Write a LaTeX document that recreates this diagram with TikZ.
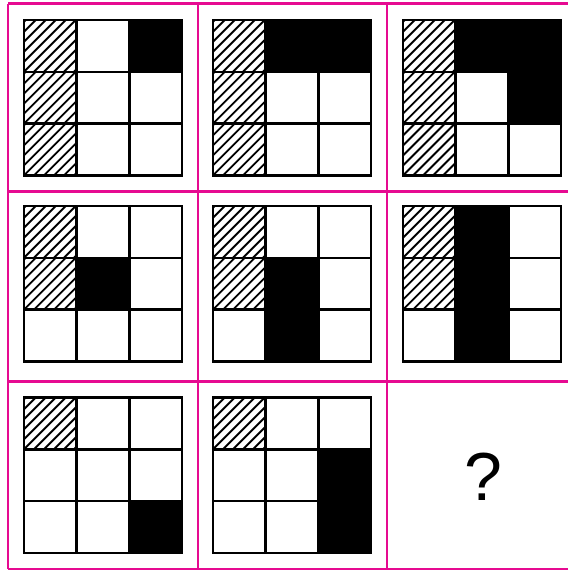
\documentclass[tikz,border=0pt]{standalone}
\usepackage{fontspec}
\setmainfont{Liberation Sans}
\definecolor{mag}{RGB}{230,10,145}
\def\cw{52.67}
\def\ch{51.8}
\newcommand\mypanel[4]{%
  \begin{scope}[shift={(#1,#2)}]
    \foreach \r/\c in {#3} {
      \begin{scope}
        \clip (\c*\cw,\r*\ch) rectangle ++(\cw,\ch);
        \foreach \k in {-60,-50,...,60}
          \draw[hatchline] (\c*\cw+\k,\r*\ch+\ch) -- ++(64,-64);
      \end{scope}
    }
    \foreach \r/\c in {#4} {
      \fill[black] (\c*\cw,\r*\ch) rectangle ++(\cw,\ch);
    }
    \draw[gridline] (0,0) rectangle (3*\cw,3*\ch);
    \foreach \i in {1,2} {
      \draw[gridline] (\i*\cw,0) -- (\i*\cw,3*\ch);
      \draw[gridline] (0,\i*\ch) -- (3*\cw,\i*\ch);
    }
  \end{scope}}
\begin{document}
\begin{tikzpicture}[x=1pt,y=-1pt,
  gridline/.style={line width=2.5pt,draw=black},
  hatchline/.style={line width=1.9pt,draw=black},
  magline/.style={line width=2.5pt,draw=mag},
  qmark/.style={font=\fontsize{68}{68}\selectfont,inner sep=0pt}]
\useasboundingbox (0,0) rectangle (568,571);
\fill[white] (0,0) rectangle (568,571);
% magenta frame lines
\foreach \yy in {3.5,191.5,381.5,569} \draw[magline] (8,\yy) -- (568,\yy);
\foreach \xx in {8,198,387} \draw[magline] (\xx,3.5) -- (\xx,569);
% row 1
\mypanel{24}{20}{0/0,1/0,2/0}{0/2}
\mypanel{213}{20}{0/0,1/0,2/0}{0/1,0/2}
\mypanel{403}{20}{0/0,1/0,2/0}{0/1,0/2,1/2}
% row 2
\mypanel{24}{206}{0/0,1/0}{1/1}
\mypanel{213}{206}{0/0,1/0}{1/1,2/1}
\mypanel{403}{206}{0/0,1/0}{0/1,1/1,2/1}
% row 3
\mypanel{24}{397.5}{0/0}{2/2}
\mypanel{213}{397.5}{0/0}{1/2,2/2}
\node[qmark] (q) at (483,477) {?};
\end{tikzpicture}
\end{document}
